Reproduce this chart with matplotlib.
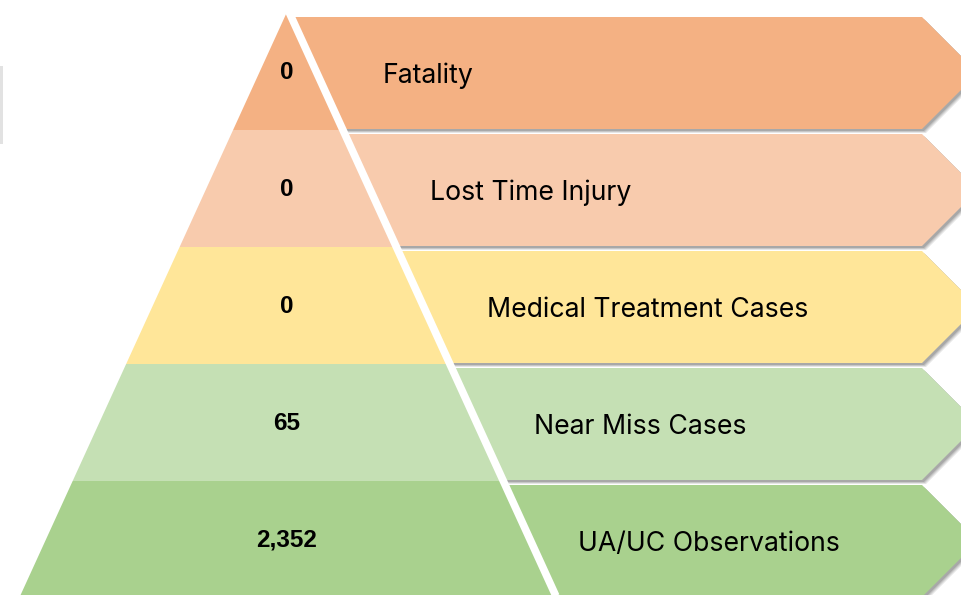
import numpy as np
from matplotlib import pyplot as plt
from matplotlib.patches import Polygon, Rectangle

# safety pyramid data (top to bottom)
categories = ["Fatality", "Lost Time Injury", "Medical Treatment Cases",
              "Near Miss Cases", "UA/UC Observations"]
counts = [0, 0, 0, 65, 2352]
colors = ["#F4B183", "#F8CBAD", "#FFE699", "#C5E0B4", "#A9D18E"]

# layout (pixels, y down)
W, H = 961, 595
apex_x, apex_y = 287, 12
slope = 0.457          # half-width growth per pixel of height
band_h = 117
bar_gap = 4
body_end = 922
label_x = [428, 531, 648, 640, 709]


def edge_x(y, side):
    return apex_x + side * slope * (y - apex_y)


fig = plt.figure(figsize=(W / 100, H / 100), dpi=100)
ax = fig.add_axes([0, 0, 1, 1])
ax.set_xlim(0, W)
ax.set_ylim(H, 0)
ax.axis('off')

# faint shadow of something off the left edge
ax.add_patch(Rectangle((0, 66), 3, 78, color='#e2e2e2', lw=0))

for i, (cat, n, c) in enumerate(zip(categories, counts, colors)):
    y0 = apex_y + 1 + band_h * i
    y1 = y0 + band_h
    # pyramid band
    pts = [(edge_x(y0, -1), y0), (edge_x(y0, 1), y0),
           (edge_x(y1, 1), y1), (edge_x(y1, -1), y1)]
    ax.add_patch(Polygon(pts, closed=True, fc=c, ec='none', zorder=2))

    # arrow bar to the right
    t = 17 + band_h * i
    b = t + band_h - bar_gap - 1
    mid = (t + b) / 2
    half = (b - t) / 2
    arrow = [(edge_x(t, 1), t), (body_end, t), (body_end + half, mid),
             (body_end, b), (edge_x(b, 1), b)]
    for dx, a in [(4, 0.18), (3, 0.25), (2, 0.35)]:
        sh = [(x + dx, y + dx) for x, y in arrow]
        ax.add_patch(Polygon(sh, closed=True, fc='#707070', ec='none',
                             alpha=a, zorder=3))
    ax.add_patch(Polygon(arrow, closed=True, fc=c, ec='none', zorder=4))

    ax.text(label_x[i], mid + 3, cat, ha='center', va='center',
            fontsize=19.2, family=['Inter', 'DejaVu Sans'], zorder=6)
    ax.text(apex_x, (y0 + y1) / 2 + 1, f"{n:,}", ha='center', va='center',
            fontsize=17.5, fontweight='bold',
            family=['Liberation Sans', 'DejaVu Sans'], zorder=6)

# white separator along the right side of the pyramid
ys = np.array([apex_y - 5, H + 5])
ax.plot(edge_x(ys, 1) + 2, ys, color='white', lw=5.5, zorder=5,
        solid_capstyle='butt')

fig.savefig('out.png', dpi=100)
